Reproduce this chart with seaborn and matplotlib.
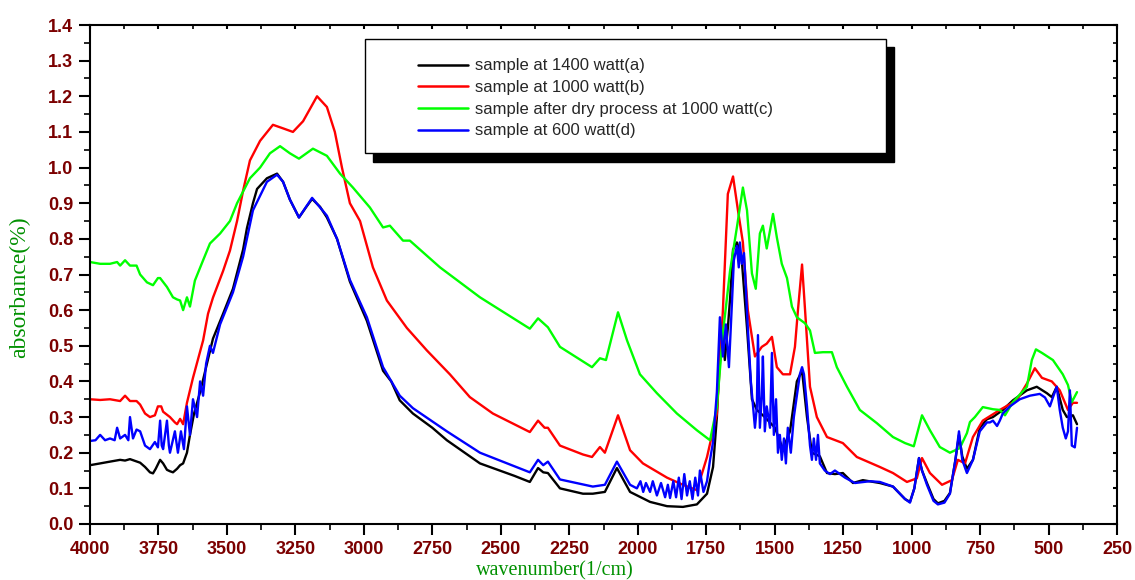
import numpy as np
import pandas as pd
import matplotlib
matplotlib.use("Agg")
import matplotlib.pyplot as plt
from matplotlib.patches import Rectangle
from matplotlib.lines import Line2D
from matplotlib.ticker import MultipleLocator, FormatStrFormatter
import seaborn as sns

# ---------------- data ----------------
labels = ["sample at 1400 watt(a)", "sample at 1000 watt(b)",
          "sample after dry process at 1000 watt(c)", "sample at 600 watt(d)"]
colors = ["#000000", "#ff0000", "#00ff00", "#0000ff"]

wn_a = [4000, 3963, 3927, 3890, 3872, 3854, 3817, 3799, 3781, 3770, 3760, 3744, 3733, 3719, 3708, 3697, 3682,
        3671, 3660, 3646, 3635, 3620, 3598, 3576, 3551, 3514, 3478, 3441, 3427, 3405, 3390, 3354, 3317, 3295,
        3270, 3237, 3210, 3189, 3160, 3135, 3098, 3051, 2989, 2930, 2900, 2869, 2821, 2750, 2697, 2576, 2450,
        2394, 2364, 2345, 2328, 2284, 2200, 2164, 2120, 2076, 2028, 1955, 1893, 1835, 1784, 1747, 1725, 1711,
        1700, 1689, 1682, 1671, 1663, 1652, 1638, 1631, 1620, 1601, 1583, 1565, 1536, 1499, 1470, 1444, 1419,
        1400, 1382, 1364, 1335, 1309, 1280, 1251, 1214, 1178, 1116, 1068, 1024, 1006, 990, 973, 962, 944, 920,
        904, 880, 860, 840, 827, 815, 798, 776, 751, 725, 703, 667, 630, 579, 543, 506, 488, 470, 448, 433,
        411, 396]
ab_a = [0.165, 0.17, 0.175, 0.18, 0.178, 0.182, 0.172, 0.16, 0.145, 0.142, 0.155, 0.18, 0.17, 0.152, 0.148,
        0.145, 0.155, 0.165, 0.17, 0.2, 0.25, 0.31, 0.37, 0.44, 0.52, 0.59, 0.66, 0.77, 0.83, 0.9, 0.94, 0.97,
        0.983, 0.96, 0.91, 0.86, 0.89, 0.912, 0.89, 0.86, 0.8, 0.68, 0.57, 0.43, 0.4, 0.347, 0.31, 0.27, 0.235,
        0.17, 0.135, 0.118, 0.157, 0.145, 0.143, 0.1, 0.085, 0.085, 0.09, 0.157, 0.09, 0.062, 0.05, 0.048,
        0.055, 0.085, 0.16, 0.3, 0.5, 0.55, 0.46, 0.55, 0.63, 0.77, 0.79, 0.775, 0.74, 0.55, 0.35, 0.32, 0.3,
        0.27, 0.21, 0.26, 0.4, 0.43, 0.3, 0.2, 0.19, 0.143, 0.14, 0.143, 0.115, 0.123, 0.115, 0.105, 0.07,
        0.062, 0.1, 0.185, 0.15, 0.115, 0.07, 0.058, 0.065, 0.087, 0.18, 0.25, 0.19, 0.155, 0.18, 0.27, 0.294,
        0.3, 0.32, 0.347, 0.375, 0.385, 0.367, 0.356, 0.385, 0.32, 0.3, 0.305, 0.28]

wn_b = [4000, 3963, 3927, 3890, 3872, 3854, 3830, 3817, 3799, 3781, 3763, 3752, 3740, 3733, 3708, 3690, 3682,
        3671, 3660, 3646, 3624, 3587, 3569, 3551, 3514, 3489, 3463, 3441, 3416, 3379, 3332, 3295, 3259, 3222,
        3171, 3135, 3106, 3080, 3051, 3014, 2967, 2916, 2843, 2770, 2686, 2613, 2529, 2394, 2364, 2340, 2328,
        2284, 2200, 2167, 2138, 2120, 2072, 2028, 1981, 1893, 1835, 1784, 1747, 1711, 1700, 1689, 1671, 1652,
        1634, 1616, 1598, 1572, 1547, 1529, 1510, 1492, 1470, 1444, 1426, 1415, 1400, 1389, 1371, 1346, 1309,
        1251, 1200, 1116, 1068, 1017, 981, 962, 933, 889, 853, 831, 805, 776, 740, 678, 616, 579, 550, 524,
        488, 459, 429, 411, 396]
ab_b = [0.35, 0.348, 0.35, 0.345, 0.36, 0.345, 0.345, 0.335, 0.31, 0.3, 0.305, 0.33, 0.33, 0.315, 0.3, 0.285,
        0.28, 0.295, 0.28, 0.34, 0.41, 0.515, 0.59, 0.635, 0.71, 0.767, 0.85, 0.935, 1.02, 1.075, 1.12, 1.11,
        1.1, 1.13, 1.2, 1.17, 1.1, 1.0, 0.9, 0.85, 0.72, 0.627, 0.55, 0.487, 0.42, 0.356, 0.31, 0.258, 0.29,
        0.27, 0.27, 0.22, 0.195, 0.188, 0.216, 0.2, 0.305, 0.207, 0.17, 0.13, 0.11, 0.095, 0.188, 0.31, 0.45,
        0.6, 0.926, 0.975, 0.88, 0.79, 0.6, 0.47, 0.497, 0.506, 0.525, 0.44, 0.42, 0.42, 0.497, 0.6, 0.728, 0.6,
        0.385, 0.3, 0.244, 0.227, 0.188, 0.16, 0.143, 0.118, 0.128, 0.185, 0.143, 0.11, 0.123, 0.18, 0.17,
        0.244, 0.29, 0.32, 0.347, 0.394, 0.437, 0.41, 0.4, 0.375, 0.32, 0.34, 0.34]

wn_c = [4000, 3963, 3927, 3901, 3890, 3872, 3854, 3830, 3817, 3792, 3770, 3752, 3744, 3719, 3697, 3682, 3671,
        3660, 3646, 3635, 3617, 3587, 3562, 3525, 3489, 3463, 3416, 3379, 3343, 3306, 3270, 3237, 3186, 3135,
        3087, 3040, 2978, 2930, 2905, 2857, 2832, 2722, 2576, 2394, 2364, 2328, 2284, 2167, 2138, 2116, 2072,
        2039, 1992, 1930, 1857, 1784, 1736, 1711, 1689, 1663, 1638, 1616, 1601, 1583, 1569, 1554, 1543, 1529,
        1506, 1492, 1474, 1455, 1437, 1419, 1389, 1371, 1353, 1324, 1291, 1273, 1236, 1189, 1127, 1068, 1024,
        992, 962, 933, 897, 860, 824, 798, 787, 769, 740, 703, 678, 659, 630, 579, 561, 546, 524, 484, 448,
        429, 415, 396]
ab_c = [0.735, 0.73, 0.73, 0.735, 0.725, 0.74, 0.725, 0.725, 0.7, 0.678, 0.67, 0.69, 0.69, 0.665, 0.636, 0.63,
        0.627, 0.6, 0.636, 0.61, 0.683, 0.74, 0.787, 0.815, 0.85, 0.9, 0.97, 1.0, 1.04, 1.06, 1.04, 1.025,
        1.053, 1.033, 0.983, 0.944, 0.888, 0.832, 0.837, 0.795, 0.795, 0.72, 0.636, 0.548, 0.577, 0.552,
        0.497, 0.44, 0.465, 0.46, 0.594, 0.515, 0.42, 0.367, 0.31, 0.263, 0.235, 0.328, 0.535, 0.71, 0.832,
        0.944, 0.88, 0.703, 0.66, 0.815, 0.837, 0.773, 0.87, 0.804, 0.73, 0.69, 0.61, 0.58, 0.563, 0.543, 0.48,
        0.482, 0.482, 0.44, 0.385, 0.32, 0.283, 0.244, 0.227, 0.218, 0.305, 0.263, 0.216, 0.2, 0.213, 0.255,
        0.286, 0.3, 0.328, 0.322, 0.32, 0.305, 0.342, 0.385, 0.46, 0.49, 0.48, 0.46, 0.42, 0.39, 0.342, 0.37]

wn_d = [4000, 3980, 3963, 3945, 3927, 3910, 3901, 3890, 3872, 3860, 3854, 3843, 3830, 3817, 3799, 3781, 3763,
        3752, 3744, 3738, 3733, 3719, 3712, 3708, 3690, 3679, 3668, 3657, 3646, 3635, 3624, 3609, 3598, 3587,
        3576, 3562, 3551, 3525, 3478, 3441, 3405, 3354, 3317, 3295, 3270, 3237, 3189, 3135, 3098, 3051, 2989,
        2930, 2869, 2821, 2697, 2576, 2394, 2364, 2345, 2328, 2284, 2164, 2120, 2076, 2028, 2003, 1990, 1980,
        1970, 1955, 1945, 1930, 1915, 1900, 1890, 1882, 1870, 1860, 1850, 1840, 1830, 1820, 1810, 1800, 1790,
        1780, 1773, 1760, 1747, 1736, 1725, 1711, 1700, 1689, 1678, 1667, 1656, 1649, 1638, 1631, 1627, 1620,
        1612, 1605, 1598, 1587, 1579, 1572, 1565, 1561, 1554, 1547, 1543, 1536, 1529, 1517, 1510, 1503, 1495,
        1488, 1481, 1474, 1466, 1459, 1452, 1441, 1430, 1419, 1408, 1400, 1393, 1382, 1371, 1364, 1357, 1349,
        1342, 1335, 1317, 1298, 1280, 1243, 1207, 1152, 1116, 1068, 1024, 1006, 990, 973, 962, 944, 920, 904,
        880, 860, 840, 827, 815, 798, 776, 751, 725, 714, 703, 688, 678, 667, 641, 605, 568, 532, 513, 495, 484,
        470, 459, 448, 437, 429, 422, 415, 404, 396]
ab_d = [0.233, 0.235, 0.25, 0.235, 0.24, 0.235, 0.27, 0.24, 0.25, 0.235, 0.3, 0.24, 0.265, 0.26, 0.22, 0.21,
        0.23, 0.215, 0.29, 0.22, 0.21, 0.29, 0.22, 0.2, 0.26, 0.2, 0.26, 0.21, 0.33, 0.25, 0.35, 0.3, 0.4, 0.36,
        0.45, 0.5, 0.48, 0.56, 0.65, 0.75, 0.88, 0.96, 0.98, 0.96, 0.91, 0.86, 0.915, 0.865, 0.8, 0.685, 0.58,
        0.44, 0.36, 0.325, 0.26, 0.2, 0.145, 0.18, 0.165, 0.175, 0.125, 0.105, 0.11, 0.175, 0.11, 0.1, 0.12,
        0.09, 0.115, 0.09, 0.12, 0.08, 0.115, 0.075, 0.11, 0.073, 0.12, 0.075, 0.13, 0.07, 0.14, 0.08, 0.12,
        0.07, 0.13, 0.08, 0.15, 0.09, 0.12, 0.18, 0.23, 0.37, 0.58, 0.47, 0.56, 0.44, 0.62, 0.74, 0.78, 0.72,
        0.79, 0.73, 0.76, 0.66, 0.55, 0.4, 0.33, 0.27, 0.33, 0.53, 0.27, 0.36, 0.47, 0.26, 0.33, 0.27, 0.48,
        0.25, 0.35, 0.2, 0.25, 0.18, 0.24, 0.17, 0.27, 0.2, 0.3, 0.36, 0.42, 0.44, 0.42, 0.33, 0.22, 0.18, 0.24,
        0.18, 0.25, 0.17, 0.15, 0.14, 0.15, 0.13, 0.115, 0.12, 0.118, 0.105, 0.07, 0.06, 0.1, 0.185, 0.15, 0.11,
        0.065, 0.055, 0.06, 0.085, 0.18, 0.26, 0.18, 0.143, 0.18, 0.26, 0.285, 0.285, 0.29, 0.275, 0.29, 0.31,
        0.33, 0.35, 0.36, 0.365, 0.355, 0.33, 0.355, 0.385, 0.32, 0.27, 0.24, 0.26, 0.375, 0.22, 0.215, 0.27]

x_ticks = [4000, 3750, 3500, 3250, 3000, 2750, 2500, 2250, 2000, 1750, 1500, 1250, 1000, 750, 500, 250]
y_ticks = [0.0, 0.1, 0.2, 0.3, 0.4, 0.5, 0.6, 0.7, 0.8, 0.9, 1.0, 1.1, 1.2, 1.3, 1.4]

# ---------------- build long table ----------------
frames = []
for wn, ab, lab in [(wn_a, ab_a, labels[0]), (wn_b, ab_b, labels[1]),
                    (wn_c, ab_c, labels[2]), (wn_d, ab_d, labels[3])]:
    frames.append(pd.DataFrame({"wavenumber": wn, "absorbance": ab, "sample": lab}))
df = pd.concat(frames, ignore_index=True)

sns.set_style("ticks")
plt.rcParams["font.family"] = ["Liberation Sans", "DejaVu Sans"]

fig = plt.figure(figsize=(11.35, 5.8), dpi=100)
ax = fig.add_axes([90 / 1135, 1 - 524 / 580, 1027 / 1135, 499 / 580])

sns.lineplot(data=df, x="wavenumber", y="absorbance", hue="sample", hue_order=labels,
             palette=colors, estimator=None, sort=True, linewidth=1.7, ax=ax, legend=False)

ax.set_xlim(4000, 250)
ax.set_ylim(0, 1.4)
ax.set_xticks(x_ticks)
ax.set_yticks(y_ticks)
ax.xaxis.set_minor_locator(MultipleLocator(125))
ax.yaxis.set_minor_locator(MultipleLocator(0.05))
ax.yaxis.set_major_formatter(FormatStrFormatter("%.1f"))

tick_color = "#7b0000"
for lab in ax.get_xticklabels() + ax.get_yticklabels():
    lab.set_fontweight("bold")
    lab.set_color(tick_color)
    lab.set_fontsize(13)

ax.tick_params(axis="both", which="major", direction="out", length=8, width=1.5, colors="black",
               labelcolor=tick_color, pad=4)
ax.tick_params(axis="both", which="minor", direction="out", length=4, width=1.2, colors="black")
ax.tick_params(axis="x", which="both", top=True)
ax.tick_params(axis="y", which="both", right=True)
ax.tick_params(axis="x", which="both", labeltop=False)
# top/right ticks pointing inward and short
for t in ax.xaxis.get_major_ticks() + ax.xaxis.get_minor_ticks():
    t.tick2line.set_markersize(3)
    t.tick2line.set_marker(3)
for t in ax.yaxis.get_major_ticks() + ax.yaxis.get_minor_ticks():
    t.tick2line.set_markersize(3)
    t.tick2line.set_marker(0)

for s in ax.spines.values():
    s.set_linewidth(1.5)
    s.set_color("black")

ax.set_xlabel("wavenumber(1/cm)", family=["Liberation Serif", "DejaVu Serif"], fontsize=14.5,
              color="#009000")
ax.xaxis.set_label_coords(0.453, -0.075)
ax.set_ylabel("absorbance(%)", family=["Liberation Serif", "DejaVu Serif"], fontsize=17,
              color="#009000")
ax.yaxis.set_label_coords(-0.058, 0.475)

# legend box with hard black shadow
bx, by, bw, bh = 0.268, 0.743, 0.507, 0.229
ax.add_patch(Rectangle((bx + 0.0075, by - 0.017), bw, bh, transform=ax.transAxes,
                       facecolor="black", edgecolor="black", zorder=5))
ax.add_patch(Rectangle((bx, by), bw, bh, transform=ax.transAxes,
                       facecolor="white", edgecolor="black", linewidth=1.0, zorder=6))
proxy = [Line2D([], [], color=c, linewidth=1.8) for c in colors]
leg = ax.legend(proxy, labels, loc="upper left", bbox_to_anchor=(0.319, 0.933),
                frameon=False, borderpad=0, borderaxespad=0, handlelength=3.0,
                handletextpad=0.45, labelspacing=0.4, prop={"family": "Liberation Sans", "size": 12})
leg.set_zorder(7)

fig.savefig("out.png", dpi=100)
